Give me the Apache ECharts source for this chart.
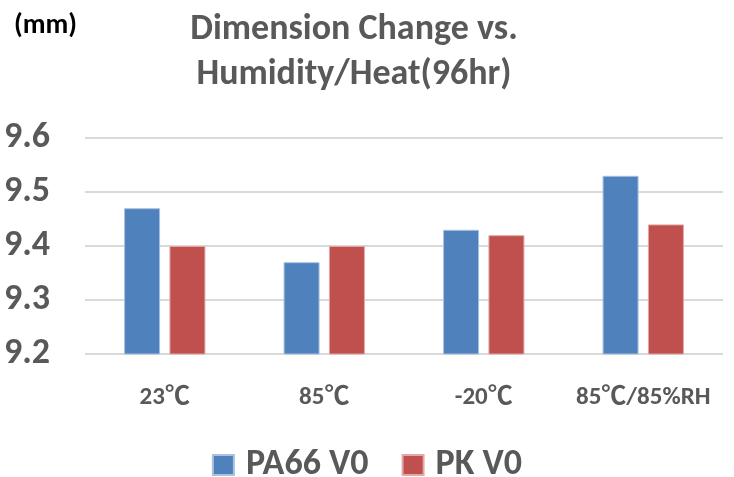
<!DOCTYPE html>
<html>
<head>
<meta charset="utf-8">
<script src="https://cdn.jsdelivr.net/npm/echarts@6/dist/echarts.min.js"></script>
<style>
html,body{margin:0;padding:0;background:#fff;}
#chart{width:734px;height:477px;}
</style>
</head>
<body>
<div id="chart"></div>
<script>
const categories = ['23℃', '85℃', '-20℃', '85℃/85%RH'];
const pa66 = [9.47, 9.37, 9.43, 9.53];
const pk = [9.40, 9.40, 9.42, 9.44];
const seriesNames = ['PA66 V0', 'PK V0'];
const titleText = 'Dimension Change vs.\nHumidity/Heat(96hr)';
const unitText = '(mm)';

const FONT = "Carlito, Calibri, 'Liberation Sans Narrow', 'DejaVu Sans Condensed', sans-serif";
const XFONT = "Carlito, Lato, 'Noto Sans CJK SC', sans-serif";
const GRAY = '#595959';

const chart = echarts.init(document.getElementById('chart'));
chart.setOption({
  animation: false,
  title: [
    {
      text: titleText,
      left: 349, top: 2, textAlign: 'center',
      textStyle: { fontFamily: FONT, fontSize: 36, fontWeight: 'bold', color: GRAY, lineHeight: 45 }
    },
    {
      text: unitText,
      left: 9, top: 5,
      textStyle: { fontFamily: FONT, fontSize: 28, fontWeight: 'bold', color: '#000', lineHeight: 32 }
    }
  ],
  grid: { left: 85, right: 11, top: 138, bottom: 123, containLabel: false },
  xAxis: {
    type: 'category',
    data: categories,
    axisLine: { show: false },
    axisTick: { show: false },
    axisLabel: { interval: 0, hideOverlap: false, margin: 31, fontFamily: XFONT, fontSize: 25, fontWeight: 'bold', color: GRAY }
  },
  yAxis: {
    type: 'value',
    min: 9.2, max: 9.6, interval: 0.1,
    axisLine: { show: false },
    axisTick: { show: false },
    splitLine: { lineStyle: { color: '#d9d9d9', width: 2 } },
    axisLabel: {
      margin: 35, fontFamily: FONT, fontSize: 36, fontWeight: 'bold', color: GRAY,
      formatter: v => v.toFixed(1)
    }
  },
  legend: {
    top: 442, left: 'center',
    itemWidth: 21, itemHeight: 20, itemGap: 33,
    icon: 'rect',
    textStyle: { fontFamily: FONT, fontSize: 36, fontWeight: 'bold', color: GRAY, lineHeight: 36, padding: [0, 0, 0, 7] }
  },
  series: [
    {
      name: seriesNames[0], type: 'bar', data: pa66,
      barWidth: 36, barGap: '26%',
      itemStyle: { color: '#4F81BD', borderColor: '#a9c1df', borderWidth: 1 }
    },
    {
      name: seriesNames[1], type: 'bar', data: pk,
      barWidth: 36,
      itemStyle: { color: '#C0504D', borderColor: '#e0a8a6', borderWidth: 1 }
    }
  ]
});
</script>
</body>
</html>
